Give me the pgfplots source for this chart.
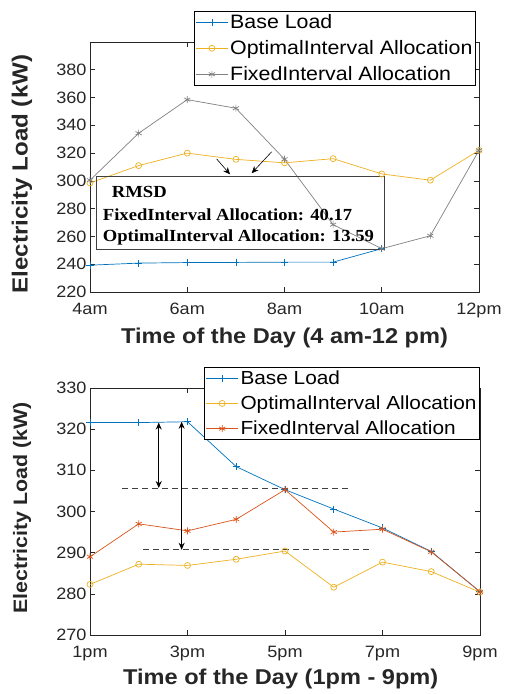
\documentclass[border=0pt]{standalone}
\usepackage{fontspec}
\setmainfont{Liberation Sans}[FakeStretch=1.1]
\newfontfamily\rmsdfont{Liberation Serif}[FakeStretch=1.1]
\usepackage{pgfplots}
\pgfplotsset{compat=1.18}
\usetikzlibrary{arrows.meta}

\definecolor{mblue}{rgb}{0,0.447,0.741}
\definecolor{myellow}{rgb}{0.929,0.694,0.125}
\definecolor{morange}{rgb}{0.85,0.325,0.098}
\definecolor{mgrey}{rgb}{0.5,0.5,0.5}
\definecolor{maxis}{rgb}{0.15,0.15,0.15}

\pgfplotsset{
  mstyle/.style={
    scale only axis,
    clip=false,
    axis line style={maxis, line width=0.8bp},
    every tick/.style={maxis, line width=0.6bp},
    major tick length=5bp,
    tick label style={font=\fontsize{16.5}{18}\selectfont, text=maxis},
    xticklabel style={yshift=-8bp},
    /pgf/number format/assume math mode=true,
    label style={font=\bfseries\fontsize{21.5}{24}\selectfont, text=maxis},
    legend cell align=left,
    legend style={draw=black, line width=0.8bp, fill=white,
      font=\fontsize{19.5}{22}\selectfont, inner sep=1bp, row sep=6.5bp},
    every axis plot/.append style={line width=0.7bp,
      legend image code/.code={\draw[mark repeat=2,mark phase=2,##1]
        plot coordinates {(0bp,0bp) (16bp,0bp) (32bp,0bp)};}},
  }
}

\begin{document}
\begin{tikzpicture}
\useasboundingbox (0,0) rectangle (508bp,694bp);

% upper panel: 4 am - 12 pm
\begin{axis}[mstyle,
    at={(90bp,402bp)}, anchor=south west,
    width=389bp, height=250bp,
    xmin=4, xmax=12, ymin=220, ymax=400,
    xtick={4,6,8,10,12},
    xticklabels={4am,6am,8am,10am,12pm},
    ytick={220,240,...,380},
    xlabel={Time of the Day (4 am-12 pm)},
    ylabel={Electricity Load (kW)},
    xlabel style={anchor=base, at={(axis description cs:0.5,-0.205)}},
    ylabel style={anchor=center, at={(axis description cs:-0.175,0.472)},
      font=\bfseries\fontsize{22}{24}\selectfont},
    legend style={at={(0.992,1.124)}, anchor=north east},
  ]
  \addplot[color=mblue, mark=+, mark size=3.5bp] coordinates {
    (4,239.3) (5,240.8) (6,241.2) (7,241.3) (8,241.5)
    (9,241.5) (10,251.2)
  };
  \addplot[color=myellow, mark=o, mark size=3bp] coordinates {
    (4,298.5) (5,311) (6,320) (7,315.5) (8,313)
    (9,316) (10,305) (11,300.5) (12,322)
  };
  \addplot[color=mgrey, mark=asterisk, mark size=3.5bp] coordinates {
    (4,300.5) (5,334.3) (6,358.5) (7,352.3) (8,315.6)
    (9,268.5) (10,251.2) (11,260.5) (12,322)
  };
  \legend{Base Load, OptimalInterval Allocation, FixedInterval Allocation}

  \draw[black!75, line width=0.9bp] (axis cs:4.123,303.0) rectangle (axis cs:10.05,250.7);
  \node[anchor=base west, inner sep=0pt, font=\rmsdfont\bfseries\fontsize{17}{20}\selectfont]
    at (axis cs:4.446,287.9) {RMSD};
  \node[anchor=base west, inner sep=0pt, font=\rmsdfont\bfseries\fontsize{17}{20}\selectfont]
    at (axis cs:4.261,271.8) {FixedInterval Allocation: 40.17};
  \node[anchor=base west, inner sep=0pt, font=\rmsdfont\bfseries\fontsize{17}{20}\selectfont]
    at (axis cs:4.261,256.7) {OptimalInterval Allocation: 13.59};
  \draw[-{Stealth[length=7bp,width=6bp]}, line width=0.6bp]
    (axis cs:6.605,315.8) -- (axis cs:6.88,304.7);
  \draw[-{Stealth[length=7bp,width=6bp]}, line width=0.6bp]
    (axis cs:7.737,321.0) -- (axis cs:7.325,305.5);
\end{axis}

% lower panel: 1 pm - 9 pm
\begin{axis}[mstyle,
    at={(90bp,59bp)}, anchor=south west,
    width=390bp, height=247bp,
    xmin=1, xmax=9, ymin=270, ymax=330,
    xtick={1,3,5,7,9},
    xticklabels={1pm,3pm,5pm,7pm,9pm},
    ytick={270,280,...,330},
    xlabel={Time of the Day (1pm - 9pm)},
    ylabel={Electricity Load (kW)},
    xlabel style={anchor=base, at={(axis description cs:0.489,-0.202)}},
    ylabel style={anchor=center, at={(axis description cs:-0.174,0.514)},
      font=\bfseries\fontsize{19.5}{22}\selectfont},
    legend style={at={(1.0,1.084)}, anchor=north east,
      font=\fontsize{19}{21}\selectfont, row sep=6bp},
  ]
  \addplot[color=mblue, mark=+, mark size=3.5bp] coordinates {
    (1,321.6) (2,321.6) (3,321.8) (4,310.9) (5,305.3)
    (6,300.6) (7,296) (8,290.3) (9,280.5)
  };
  \addplot[color=myellow, mark=o, mark size=3bp] coordinates {
    (1,282.3) (2,287.2) (3,286.9) (4,288.4) (5,290.4)
    (6,281.6) (7,287.7) (8,285.4) (9,280.4)
  };
  \addplot[color=morange, mark=asterisk, mark size=3.5bp] coordinates {
    (1,289) (2,297) (3,295.3) (4,298.1) (5,305.3)
    (6,295) (7,295.7) (8,290.2) (9,280.5)
  };
  \legend{Base Load, OptimalInterval Allocation, FixedInterval Allocation}

  \draw[black!75, line width=0.8bp, dash pattern=on 6bp off 4bp]
    (axis cs:1.66,305.7) -- (axis cs:6.33,305.7);
  \draw[black!75, line width=0.8bp, dash pattern=on 6bp off 4bp]
    (axis cs:2.09,290.7) -- (axis cs:6.78,290.7);
  \draw[{Stealth[length=7bp,width=6bp]}-{Stealth[length=7bp,width=6bp]}, line width=1bp]
    (axis cs:2.41,321.6) -- (axis cs:2.41,305.7);
  \draw[{Stealth[length=7bp,width=6bp]}-{Stealth[length=7bp,width=6bp]}, line width=1bp]
    (axis cs:2.88,321.8) -- (axis cs:2.88,290.7);
\end{axis}
\end{tikzpicture}
\end{document}
